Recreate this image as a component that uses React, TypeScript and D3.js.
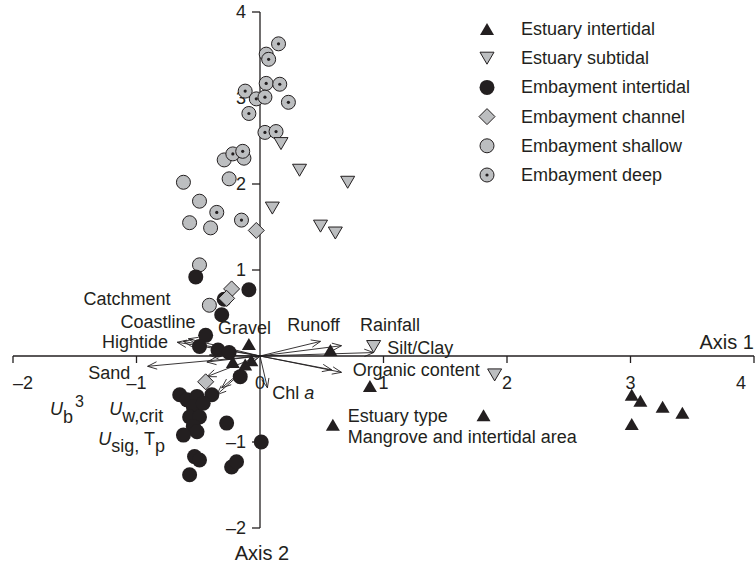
import * as d3 from "d3";

// site scores (axis 1, axis 2)
const estuaryIntertidal: [number, number][] = [
  [0.57, 0.07], [0.89, -0.35], [1.81, -0.69], [0.59, -0.8], [-0.09, 0.14],
  [-0.22, -0.07], [-0.12, -0.1], [-0.07, -0.05], [3.01, -0.45], [3.08, -0.52],
  [3.26, -0.59], [3.42, -0.66], [3.01, -0.79],
];
const estuarySubtidal: [number, number][] = [
  [0.17, 2.47], [0.32, 2.16], [0.71, 2.02], [0.1, 1.72], [0.49, 1.51],
  [0.61, 1.43], [0.92, 0.11], [1.9, -0.22],
];
const embaymentIntertidal: [number, number][] = [
  [-0.52, 0.92], [-0.09, 0.77], [-0.29, 0.66], [-0.31, 0.48], [-0.44, 0.24],
  [-0.49, 0.11], [-0.34, 0.07], [-0.25, 0.04], [-0.16, -0.24], [-0.65, -0.45],
  [-0.59, -0.51], [-0.51, -0.47], [-0.39, -0.45], [-0.54, -0.59], [-0.46, -0.55],
  [-0.57, -0.71], [-0.49, -0.71], [-0.54, -0.82], [-0.51, -0.88], [-0.62, -0.92],
  [-0.27, -0.78], [0.01, -1.0], [-0.53, -1.17], [-0.49, -1.21], [-0.57, -1.38],
  [-0.23, -1.29], [-0.19, -1.23],
];
const embaymentChannel: [number, number][] = [
  [-0.03, 1.46], [-0.23, 0.78], [-0.27, 0.67], [-0.44, -0.3],
];
const embaymentShallow: [number, number][] = [
  [-0.62, 2.02], [-0.25, 2.06], [-0.29, 2.28], [-0.13, 2.3], [-0.49, 1.8],
  [-0.57, 1.55], [-0.4, 1.49], [-0.49, 1.06], [-0.41, 0.59],
];
const embaymentDeep: [number, number][] = [
  [0.15, 3.63], [0.05, 3.51], [0.07, 3.45], [0.05, 3.17], [0.16, 3.16],
  [-0.12, 3.08], [-0.03, 2.99], [0.04, 3.01], [0.23, 2.95], [-0.09, 2.82],
  [0.04, 2.6], [0.13, 2.61], [-0.22, 2.35], [-0.14, 2.38], [-0.35, 1.67],
  [-0.15, 1.58],
];

// environmental vectors (arrow tips)
const vectorTips: [number, number][] = [
  [-0.58, 0.2], [-0.62, 0.17], [-0.67, 0.16], [-0.91, -0.12], [-0.41, 0.01],
  [-0.43, -0.07], [0.49, 0.17], [0.66, 0.12], [0.92, 0.04], [0.66, -0.19],
  [0.58, -0.16], [0.06, -0.37], [-0.43, -0.24], [-0.35, -0.45], [-0.31, -0.37],
];

const xTicks = [-2, -1, 0, 1, 2, 3, 4];
const yTicks = [-2, -1, 1, 2, 3, 4];

const legendLabels = [
  "Estuary intertidal",
  "Estuary subtidal",
  "Embayment intertidal",
  "Embayment channel",
  "Embayment shallow",
  "Embayment deep",
];

const INK = "#231f20";
const GREY = "#bcbec0";
const FONT = "'Liberation Sans', Arial, sans-serif";

const triUp = "M0,-6L7,6L-7,6Z";
const triDown = "M-7,-6L7,-6L0,6Z";
const diamond = "M0,-8L8,0L0,8L-8,0Z";

function Marker({ kind }: { kind: number }) {
  if (kind === 0) return <path d={triUp} fill={INK} />;
  if (kind === 1) return <path d={triDown} fill={GREY} stroke={INK} strokeWidth={1} />;
  if (kind === 2) return <circle r={7.5} fill={INK} />;
  if (kind === 3) return <path d={diamond} fill={GREY} stroke={INK} strokeWidth={1} />;
  if (kind === 4) return <circle r={7} fill={GREY} stroke={INK} strokeWidth={1} />;
  return (
    <g>
      <circle r={7} fill={GREY} stroke={INK} strokeWidth={1} />
      <circle r={1.6} fill={INK} />
    </g>
  );
}

export default function App() {
  const width = 756;
  const height = 567;
  const x = d3.scaleLinear().domain([-2, 4]).range([13, 754]);
  const y = d3.scaleLinear().domain([-2, 4]).range([528, 12]);
  const ox = x(0);
  const oy = y(0);

  const arrow = (t: [number, number]) => {
    const tx = x(t[0]);
    const ty = y(t[1]);
    const a = Math.atan2(ty - oy, tx - ox);
    const L = 10;
    const s = 0.38;
    const p1 = [tx - L * Math.cos(a - s), ty - L * Math.sin(a - s)];
    const p2 = [tx - L * Math.cos(a + s), ty - L * Math.sin(a + s)];
    return `M${ox},${oy}L${tx},${ty}M${p1[0]},${p1[1]}L${tx},${ty}L${p2[0]},${p2[1]}`;
  };

  const groups: [number, [number, number][]][] = [
    [4, embaymentShallow],
    [5, embaymentDeep],
    [2, embaymentIntertidal],
    [3, embaymentChannel],
    [1, estuarySubtidal],
    [0, estuaryIntertidal],
  ];

  const lab = (vx: number, vy: number) => ({ x: x(vx), y: y(vy) });
  const L = {
    catchment: lab(-1.43, 0.59),
    coastline: lab(-1.13, 0.33),
    hightide: lab(-1.28, 0.09),
    gravel: lab(-0.34, 0.26),
    runoff: lab(0.22, 0.29),
    rainfall: lab(0.81, 0.29),
    silt: lab(1.03, 0.02),
    organic: lab(0.75, -0.23),
    sand: lab(-1.39, -0.27),
    chl: lab(0.1, -0.5),
    estType: lab(0.71, -0.77),
    mangrove: lab(0.71, -1.01),
    ub: lab(-1.7, -0.69),
    uw: lab(-1.22, -0.69),
    usig: lab(-1.31, -1.04),
  };

  return (
    <svg
      width={width}
      height={height}
      style={{ position: "absolute", left: 0, top: 0, background: "#fff" }}
      fontFamily={FONT}
      fill={INK}
    >
      {/* axes */}
      <line x1={x(-2)} x2={x(4)} y1={oy} y2={oy} stroke={INK} strokeWidth={1.3} />
      <line x1={ox} x2={ox} y1={y(-2)} y2={y(4)} stroke={INK} strokeWidth={1.3} />
      {xTicks.map((v) => (
        <g key={"xt" + v}>
          {v !== 0 && <line x1={x(v)} x2={x(v)} y1={oy} y2={oy + 7} stroke={INK} strokeWidth={1.3} />}
          <text
            x={v === -2 ? x(v) : v === 4 ? x(v) - 8 : x(v)}
            y={oy + 33}
            fontSize={18}
            textAnchor={v === -2 ? "start" : v === 4 ? "end" : "middle"}
          >
            {v < 0 ? "\u2013" + Math.abs(v) : v}
          </text>
        </g>
      ))}
      {yTicks.map((v) => (
        <g key={"yt" + v}>
          <line x1={ox - 8} x2={ox} y1={y(v)} y2={y(v)} stroke={INK} strokeWidth={1.3} />
          <text x={ox - 14} y={y(v) + 6} fontSize={18} textAnchor="end">
            {v < 0 ? "\u2013" + Math.abs(v) : v}
          </text>
        </g>
      ))}
      <text x={x(4)} y={oy - 7} fontSize={20} textAnchor="end">Axis 1</text>
      <text x={ox + 2} y={y(-2) + 32} fontSize={20} textAnchor="middle">Axis 2</text>

      {/* environmental vectors */}
      {vectorTips.map((t, i) => (
        <path key={"v" + i} d={arrow(t)} fill="none" stroke={INK} strokeWidth={0.9} />
      ))}

      {/* sites */}
      {groups.map(([k, pts]) =>
        pts.map((p, i) => (
          <g key={`p${k}-${i}`} transform={`translate(${x(p[0])},${y(p[1])})`}>
            <Marker kind={k} />
          </g>
        ))
      )}

      {/* vector labels */}
      <g fontSize={18}>
        <text x={L.catchment.x} y={L.catchment.y}>Catchment</text>
        <text x={L.coastline.x} y={L.coastline.y}>Coastline</text>
        <text x={L.hightide.x} y={L.hightide.y}>Hightide</text>
        <text x={L.gravel.x} y={L.gravel.y}>Gravel</text>
        <text x={L.runoff.x} y={L.runoff.y}>Runoff</text>
        <text x={L.rainfall.x} y={L.rainfall.y}>Rainfall</text>
        <text x={L.silt.x} y={L.silt.y}>Silt/Clay</text>
        <text x={L.organic.x} y={L.organic.y}>Organic content</text>
        <text x={L.sand.x} y={L.sand.y}>Sand</text>
        <text x={L.chl.x} y={L.chl.y}>
          Chl <tspan fontStyle="italic">a</tspan>
        </text>
        <text x={L.estType.x} y={L.estType.y}>Estuary type</text>
        <text x={L.mangrove.x} y={L.mangrove.y}>Mangrove and intertidal area</text>
        <text x={L.ub.x} y={L.ub.y}>
          <tspan fontStyle="italic">U</tspan>
          <tspan dy={8}>b</tspan>
          <tspan dx={2} dy={-16} fontSize={16}>3</tspan>
        </text>
        <text x={L.uw.x} y={L.uw.y}>
          <tspan fontStyle="italic">U</tspan>
          <tspan dy={7}>w,crit</tspan>
        </text>
        <text x={L.usig.x} y={L.usig.y}>
          <tspan fontStyle="italic">U</tspan>
          <tspan dy={7}>sig</tspan>
          <tspan>,</tspan>
          <tspan dy={-7}> T</tspan>
          <tspan dy={7}>p</tspan>
        </text>
      </g>

      {/* legend */}
      {legendLabels.map((name, i) => (
        <g key={name} transform={`translate(487,${29 + i * 29.2})`}>
          <Marker kind={i} />
          <text x={34} y={6} fontSize={18}>{name}</text>
        </g>
      ))}
    </svg>
  );
}
